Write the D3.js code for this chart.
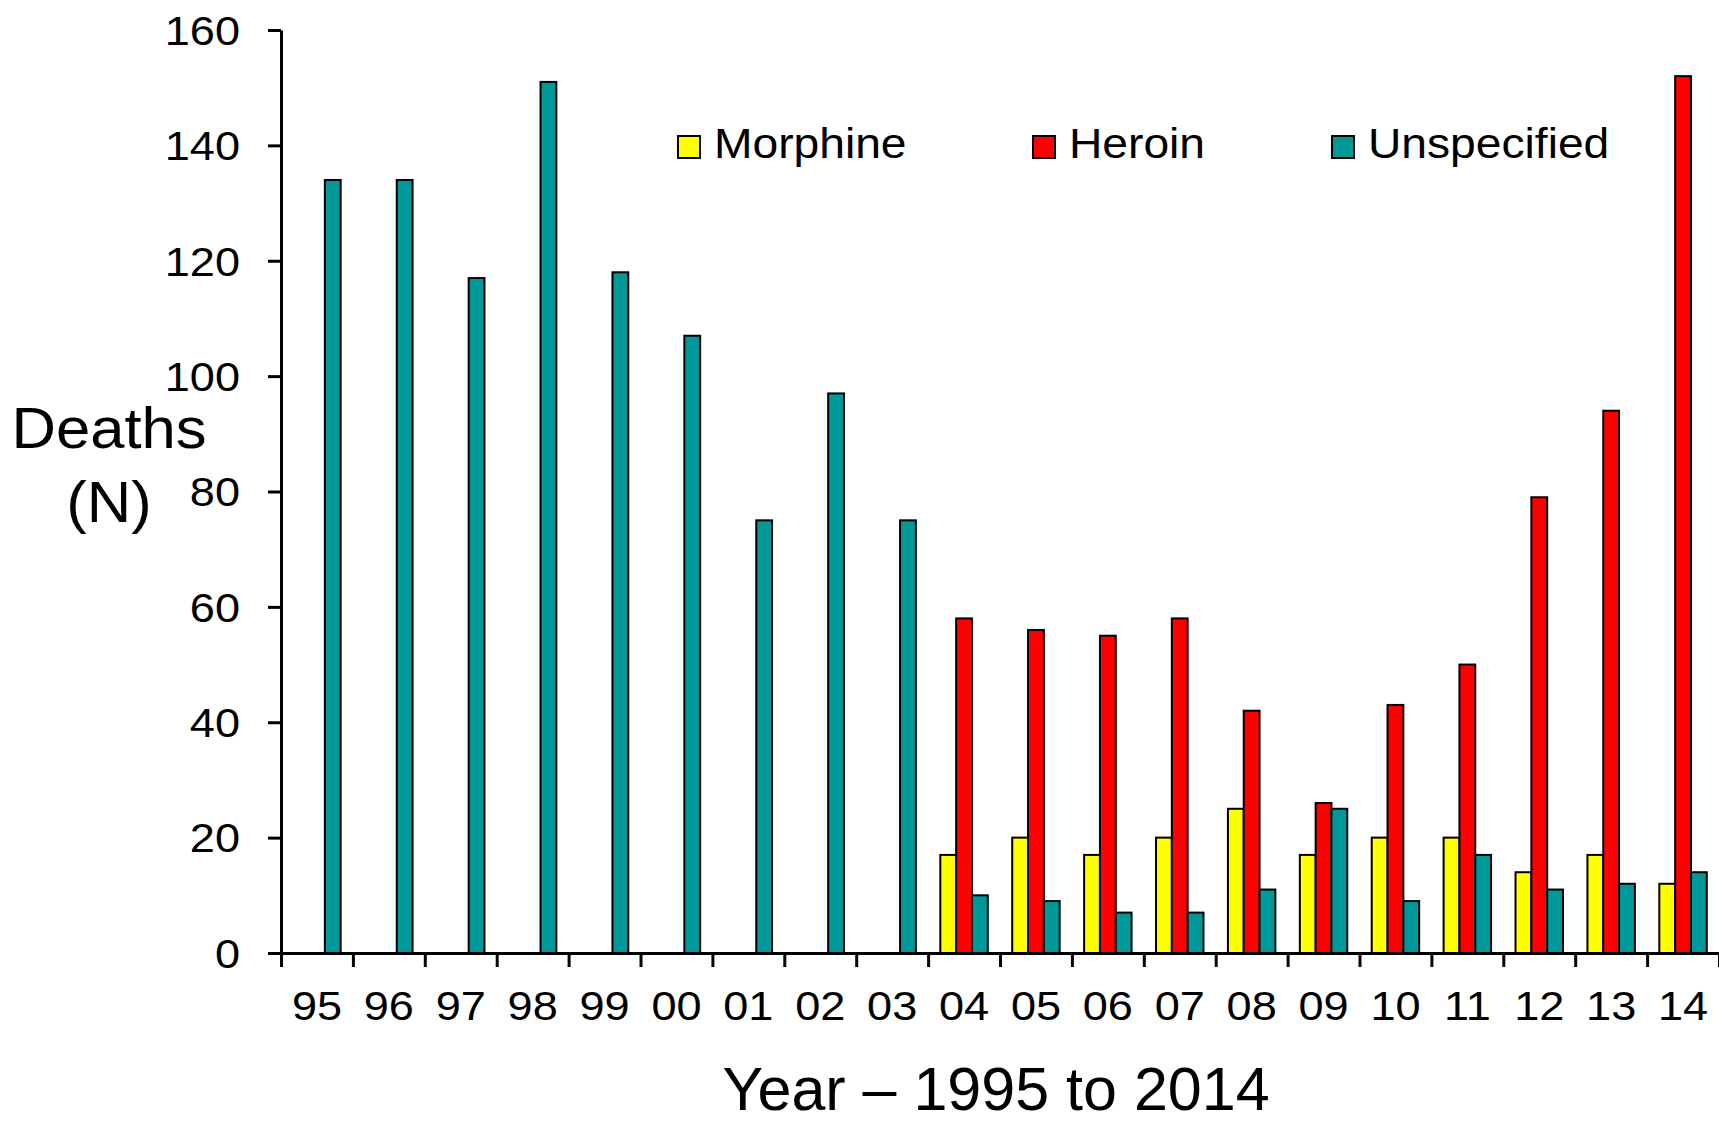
<!DOCTYPE html>
<html>
<head>
<meta charset="utf-8">
<script src="https://cdn.jsdelivr.net/npm/d3@7"></script>
<style>
  body { margin: 0; background: #fff; }
  text { font-family: 'Liberation Sans', Arial, sans-serif; fill: #000; }
</style>
</head>
<body>
<div id="chart"></div>
<script>
// DATA
const years = ['95', '96', '97', '98', '99', '00', '01', '02', '03', '04',
  '05', '06', '07', '08', '09', '10', '11', '12', '13', '14'];
const morphine = [null, null, null, null, null, null, null, null, null, 17,
  20, 17, 20, 25, 17, 20, 20, 14, 17, 12];
const heroin = [null, null, null, null, null, null, null, null, null, 58,
  56, 55, 58, 42, 26, 43, 50, 79, 94, 152];
const unspecified = [134, 134, 117, 151, 118, 107, 75, 97, 75, 10,
  9, 7, 7, 11, 25, 9, 17, 11, 12, 14];
const seriesNames = ['Morphine', 'Heroin', 'Unspecified'];
const seriesColors = ['#ffff00', '#ff0000', '#009999'];
const yTicks = [0, 20, 40, 60, 80, 100, 120, 140, 160];

function makeChart() {
  const width = 1719;
  const height = 1122;
  const margin = { top: 30, right: 0, bottom: 169, left: 281 };
  const stretch = 1.1; // text in the original is a bit wide

  const series = [morphine, heroin, unspecified];
  const data = years.map((y, i) => ({
    year: y,
    values: seriesNames.map((s, j) => ({ key: s, value: series[j][i], color: seriesColors[j] })),
  }));

  const svg = d3.select('#chart')
    .append('svg')
    .attr('width', width)
    .attr('height', height);

  const x0 = d3.scaleBand()
    .domain(years)
    .range([margin.left, width - margin.right])
    .padding(0);
  const bw = x0.bandwidth();
  const x1 = d3.scaleBand()
    .domain(seriesNames)
    .range([bw * 0.17, bw * 0.83]);
  const y = d3.scaleLinear()
    .domain([0, 160])
    .range([height - margin.bottom, margin.top]);

  // boundary ticks sit between the categories
  const xEdge = d3.scaleLinear().domain([0, years.length]).range(x0.range());

  // BARS
  const group = svg.selectAll('.group')
    .data(data)
    .enter()
    .append('g')
    .attr('class', 'group')
    .attr('transform', (d) => `translate(${x0(d.year)},0)`);

  group.selectAll('rect')
    .data((d) => d.values.filter((v) => v.value !== null))
    .enter()
    .append('rect')
    .attr('x', (d) => x1(d.key))
    .attr('y', (d) => y(d.value))
    .attr('width', x1.bandwidth())
    .attr('height', (d) => y(0) - y(d.value))
    .style('fill', (d) => d.color)
    .style('stroke', '#000')
    .style('stroke-width', 2);

  // Y AXIS
  const yAxis = d3.axisLeft(y)
    .tickValues(yTicks)
    .tickSizeInner(13)
    .tickSizeOuter(0);
  const gy = svg.append('g')
    .attr('transform', `translate(${margin.left},0)`)
    .call(yAxis);
  gy.selectAll('.tick text')
    .attr('x', -41 / stretch)
    .attr('dy', '0.35em')
    .attr('transform', `scale(${stretch},1)`)
    .style('font-size', '41px');

  // X AXIS - labels centred, ticks on the edges
  const xAxis = d3.axisBottom(x0).tickSize(0);
  const gx = svg.append('g')
    .attr('transform', `translate(0,${y(0)})`)
    .call(xAxis);
  gx.select('.domain').remove();
  gx.selectAll('.tick text')
    .attr('y', 67)
    .attr('dy', 0)
    .attr('transform', `scale(${stretch},1)`)
    .style('font-size', '41px');

  const xTickAxis = d3.axisBottom(xEdge)
    .tickValues(d3.range(0, years.length + 1))
    .tickFormat('')
    .tickSizeInner(14)
    .tickSizeOuter(0);
  svg.append('g')
    .attr('transform', `translate(0,${y(0)})`)
    .call(xTickAxis);

  svg.selectAll('.domain, .tick line')
    .style('stroke', '#000')
    .style('stroke-width', 3);

  // AXIS TITLES
  svg.append('text')
    .attr('transform', `translate(109,448) scale(1.08,1)`)
    .style('text-anchor', 'middle')
    .style('font-size', '57px')
    .text('Deaths');
  svg.append('text')
    .attr('transform', `translate(109,522) scale(1.08,1)`)
    .style('text-anchor', 'middle')
    .style('font-size', '57px')
    .text('(N)');
  svg.append('text')
    .attr('x', 996)
    .attr('y', 1110)
    .style('text-anchor', 'middle')
    .style('font-size', '61px')
    .text('Year \u2013 1995 to 2014');

  // LEGEND
  const legendX = [678, 1033, 1332];
  const legend = svg.selectAll('.legend')
    .data(seriesNames)
    .enter()
    .append('g')
    .attr('class', 'legend')
    .attr('transform', (d, i) => `translate(${legendX[i]},136)`);
  legend.append('rect')
    .attr('width', 22)
    .attr('height', 22)
    .style('fill', (d, i) => seriesColors[i])
    .style('stroke', '#000')
    .style('stroke-width', 2);
  legend.append('text')
    .attr('transform', `translate(36,22) scale(${stretch},1)`)
    .style('font-size', '42px')
    .text((d) => d);
}

window.onload = () => {
  makeChart();
};
</script>
</body>
</html>
